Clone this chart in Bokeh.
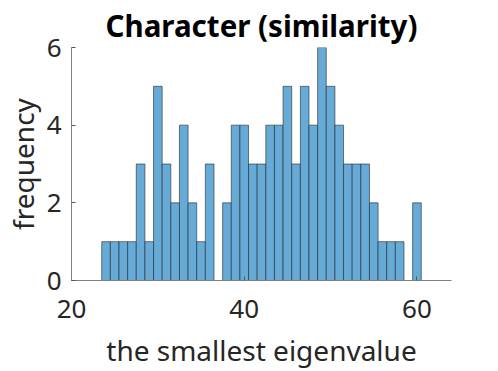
from bokeh.plotting import figure
from bokeh.embed import file_html
from bokeh.resources import INLINE
from bokeh.models import FixedTicker

# Histogram data (bin edges and counts)
bin_edges = [22.0, 23.5, 24.5, 25.5, 26.5, 27.5, 28.5, 29.5, 30.5, 31.5, 32.5,
             33.5, 34.5, 35.5, 36.5, 37.5, 38.5, 39.5, 40.5, 41.5, 42.5,
             43.5, 44.5, 45.5, 46.5, 47.5, 48.5, 49.5, 50.5, 51.5, 52.5,
             53.5, 54.5, 55.5, 56.5, 57.5, 58.5, 59.5, 60.5, 62.0]
counts = [0, 1, 1, 1, 1, 3, 1, 5, 3, 2, 4, 2, 1, 3, 0, 2, 4, 4, 3, 3,
          4, 4, 5, 3, 5, 4, 6, 5, 4, 3, 3, 3, 2, 1, 1, 1, 0, 2, 0]
x_ticks = [20, 40, 60]
y_ticks = [0, 2, 4, 6]

title_text = "Character (similarity)"
x_label = "the smallest eigenvalue"
y_label = "frequency"

FONT = "Noto Sans"
TXT = "#262626"

p = figure(width=498, height=371, x_range=(20, 64), y_range=(0, 6),
           output_backend="svg", toolbar_location=None,
           min_border_left=68, min_border_right=47,
           min_border_top=47, min_border_bottom=91)

p.title.text = title_text
p.title.align = "center"
p.title.text_font = FONT
p.title.text_font_size = "29.5px"
p.title.text_font_style = "bold"
p.title.text_color = "#000000"
p.title.offset = 0
p.title.standoff = 4

p.quad(left=bin_edges[:-1], right=bin_edges[1:], bottom=0, top=counts,
       fill_color="#66aad7", line_color="#262626", line_width=0.8,
       line_alpha=0.75)

p.xgrid.visible = False
p.ygrid.visible = False
p.outline_line_color = None

for ax in (p.xaxis[0], p.yaxis[0]):
    ax.axis_line_color = "#808080"
    ax.major_tick_line_color = "#555555"
    ax.major_tick_in = 4
    ax.major_tick_out = 0
    ax.minor_tick_line_color = None
    ax.major_label_text_font = FONT
    ax.major_label_text_font_size = "26px"
    ax.major_label_text_color = TXT
    ax.axis_label_text_font = FONT
    ax.axis_label_text_font_size = "28px"
    ax.axis_label_text_font_style = "normal"
    ax.axis_label_text_color = TXT

p.xaxis.ticker = FixedTicker(ticks=x_ticks)
p.yaxis.ticker = FixedTicker(ticks=y_ticks)
p.xaxis.axis_label = x_label
p.yaxis.axis_label = y_label
p.xaxis.major_label_standoff = 19
p.xaxis.axis_label_standoff = 10
p.yaxis.major_label_standoff = 10
p.yaxis.axis_label_standoff = 2
p.yaxis.axis_label_text_line_height = 0.9

open("out.html", "w").write(file_html(p, INLINE))
